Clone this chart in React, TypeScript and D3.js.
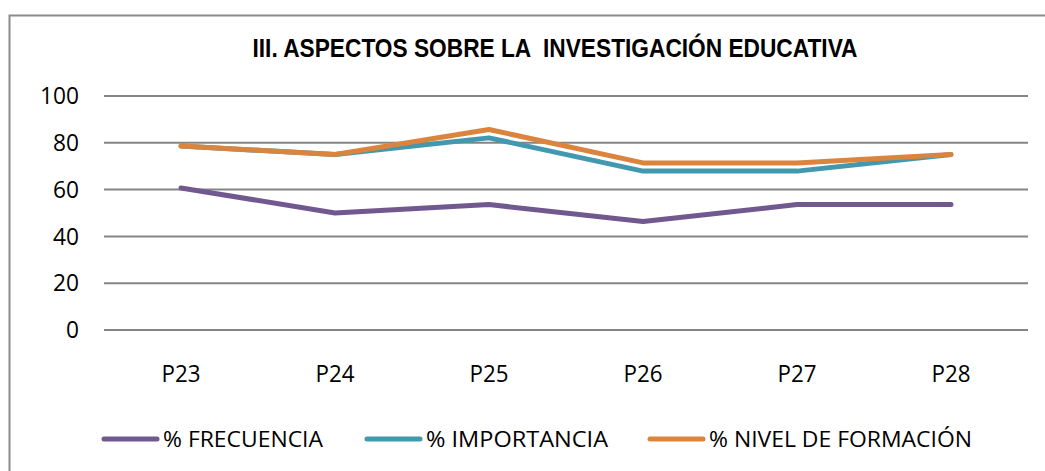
import React, { useEffect, useRef } from 'react';
import * as d3 from 'd3';

const categories = ['P23', 'P24', 'P25', 'P26', 'P27', 'P28'];
const frecuencia = [60.7, 50, 53.6, 46.4, 53.6, 53.6];
const importancia = [78.6, 75, 82.1, 67.9, 67.9, 75];
const nivelFormacion = [78.6, 75, 85.7, 71.4, 71.4, 75];
const yTicks = [0, 20, 40, 60, 80, 100];
const seriesNames = ['% FRECUENCIA', '% IMPORTANCIA', '% NIVEL DE FORMACIÓN'];
const seriesColors = ['#71588F', '#4198AF', '#DB843D'];

const W = 1045;
const H = 471;

const App = () => {
  const svgRef = useRef<SVGSVGElement | null>(null);

  useEffect(() => {
    const svg = d3.select(svgRef.current);
    svg.selectAll('*').remove();

    const plot = { left: 104, right: 1028, top: 96, bottom: 330 };
    const labelFont = '"Open Sans", "Noto Sans", sans-serif';

    // marco del gráfico
    svg.append('rect')
      .attr('x', 9.5).attr('y', 15.5)
      .attr('width', W).attr('height', H)
      .attr('fill', '#fff')
      .attr('stroke', '#8c8c8c')
      .attr('stroke-width', 2);

    // título (con doble espacio como en el original)
    svg.append('text')
      .attr('x', 555).attr('y', 57)
      .attr('text-anchor', 'middle')
      .attr('font-family', '"Liberation Sans", Arial, sans-serif')
      .attr('font-weight', 'bold')
      .attr('font-size', 26)
      .attr('textLength', 605)
      .attr('lengthAdjust', 'spacingAndGlyphs')
      .style('white-space', 'pre')
      .attr('fill', '#000')
      .text('III. ASPECTOS SOBRE LA  INVESTIGACIÓN EDUCATIVA');

    const x = d3.scalePoint<string>()
      .domain(categories)
      .range([plot.left, plot.right])
      .padding(0.5);

    const y = d3.scaleLinear()
      .domain([0, 100])
      .range([plot.bottom, plot.top]);

    // líneas de cuadrícula y etiquetas del eje Y
    const yAxis = svg.append('g');
    yAxis.selectAll('line')
      .data(yTicks)
      .enter()
      .append('line')
      .attr('x1', plot.left).attr('x2', plot.right)
      .attr('y1', d => y(d)).attr('y2', d => y(d))
      .attr('stroke', '#858585')
      .attr('stroke-width', 2);
    yAxis.selectAll('text')
      .data(yTicks)
      .enter()
      .append('text')
      .attr('x', 79)
      .attr('y', d => y(d))
      .attr('dy', '0.36em')
      .attr('text-anchor', 'end')
      .attr('font-family', labelFont)
      .attr('font-size', 23)
      .attr('textLength', d => String(d).length * 13)
      .attr('lengthAdjust', 'spacingAndGlyphs')
      .attr('fill', '#000')
      .text(d => d);

    // etiquetas del eje X
    svg.append('g')
      .selectAll('text')
      .data(categories)
      .enter()
      .append('text')
      .attr('x', d => x(d) as number)
      .attr('y', 382)
      .attr('text-anchor', 'middle')
      .attr('font-family', labelFont)
      .attr('font-size', 23)
      .attr('textLength', 39)
      .attr('lengthAdjust', 'spacingAndGlyphs')
      .attr('fill', '#000')
      .text(d => d);

    // series
    const allSeries = [frecuencia, importancia, nivelFormacion];
    const line = d3.line<number>()
      .x((_, i) => x(categories[i]) as number)
      .y(d => y(d));

    allSeries.forEach((values, i) => {
      svg.append('path')
        .datum(values)
        .attr('d', line)
        .attr('fill', 'none')
        .attr('stroke', seriesColors[i])
        .attr('stroke-width', 5)
        .attr('stroke-linejoin', 'round')
        .attr('stroke-linecap', 'round');
    });

    // leyenda
    const legendItems = [
      { lineX: 104, textX: 163, textW: 160 },
      { lineX: 367, textX: 426, textW: 182 },
      { lineX: 650, textX: 709, textW: 263 },
    ];
    const legendY = 439;
    const legend = svg.append('g');
    legendItems.forEach((it, i) => {
      legend.append('line')
        .attr('x1', it.lineX).attr('x2', it.lineX + 53)
        .attr('y1', legendY).attr('y2', legendY)
        .attr('stroke', seriesColors[i])
        .attr('stroke-width', 5)
        .attr('stroke-linecap', 'round');
      legend.append('text')
        .attr('x', it.textX)
        .attr('y', legendY)
        .attr('dy', '0.36em')
        .attr('font-family', labelFont)
        .attr('font-size', 22)
        .attr('textLength', it.textW)
        .attr('lengthAdjust', 'spacingAndGlyphs')
        .attr('fill', '#000')
        .text(seriesNames[i]);
    });
  }, []);

  return (
    <div style={{ position: 'absolute', left: 0, top: 0, width: W, height: H, overflow: 'hidden', background: '#fff' }}>
      <svg ref={svgRef} width={W} height={H} style={{ display: 'block' }}></svg>
    </div>
  );
};

export default App;
